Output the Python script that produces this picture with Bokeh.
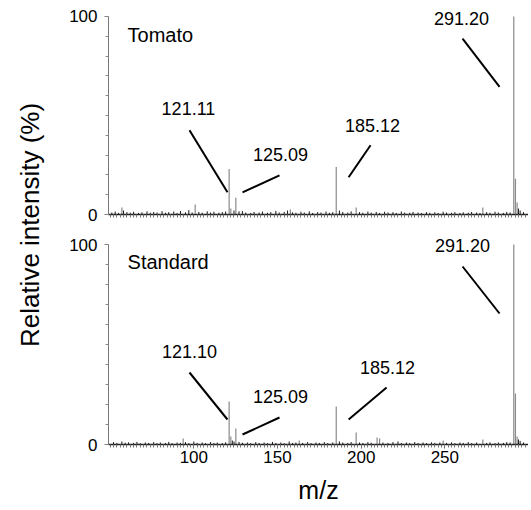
import math
from bokeh.plotting import figure
from bokeh.layouts import row, column
from bokeh.models import Range1d, FixedTicker, ColumnDataSource, LabelSet, Label
from bokeh.core.properties import value
from bokeh.embed import file_html
from bokeh.resources import INLINE

FONT = "Liberation Sans"

# ---------------- data ----------------
x_ticks = [100, 150, 200, 250]
y_ticks = [0, 100]

tomato_mz = [57.0, 100.8, 121.1, 122.1, 125.1, 157.7, 185.1, 197.0, 272.7, 291.2, 292.2, 293.2]
tomato_int = [3.5, 5.0, 23.0, 3.0, 8.5, 2.5, 24.0, 3.5, 3.5, 100.0, 18.0, 6.0]

standard_mz = [93.6, 121.1, 122.1, 125.1, 163.0, 185.1, 197.0, 209.5, 211.0, 249.0, 272.7, 291.2, 292.2, 293.2]
standard_int = [3.0, 21.5, 4.0, 8.0, 2.0, 19.0, 6.0, 3.5, 3.0, 2.0, 2.5, 100.0, 25.5, 4.0]

tomato_noise_mz = [51, 53, 55, 58, 60, 62, 64, 67, 69, 72, 74, 76, 78, 81, 83, 85, 88, 90, 92, 95,
                   97, 99, 103, 105, 108, 110, 112, 115, 117, 119, 124, 127, 129, 131, 134, 136, 139, 141, 144, 146,
                   149, 151, 154, 156, 159, 161, 164, 166, 169, 171, 174, 176, 179, 181, 183, 187, 189, 192, 194, 199,
                   201, 204, 206, 209, 211, 214, 216, 219, 221, 224, 226, 229, 231, 234, 236, 239, 241, 244, 246, 249,
                   251, 254, 256, 259, 261, 264, 266, 269, 271, 275, 277, 280, 282, 285, 287, 289, 294, 295, 297]
tomato_noise_int = [1.0, 1.5, 0.8, 2.0, 1.2, 0.9, 1.4, 0.8, 1.1, 1.6, 0.9, 1.3, 1.0, 1.7, 0.9, 1.2, 1.5, 0.8, 1.8, 1.1,
                    2.2, 1.0, 1.3, 0.9, 1.6, 1.0, 1.4, 0.9, 1.2, 1.5, 2.0, 1.6, 1.8, 1.0, 0.8, 1.3, 1.0, 1.5, 0.9, 1.2,
                    1.8, 1.0, 1.3, 2.0, 1.1, 0.9, 1.4, 1.0, 1.6, 0.8, 1.2, 1.0, 1.5, 0.9, 1.2, 2.0, 1.3, 1.0, 1.6, 1.2,
                    0.9, 1.5, 1.0, 1.3, 0.8, 1.4, 1.0, 1.2, 0.8, 1.5, 1.0, 0.9, 1.3, 1.0, 0.8, 1.2, 0.9, 1.1, 0.8, 1.4,
                    1.0, 0.9, 1.2, 0.8, 1.1, 0.9, 1.3, 1.0, 0.8, 1.2, 0.9, 1.4, 1.0, 0.8, 1.3, 1.0, 3.0, 2.0, 1.2]

standard_noise_mz = [52, 54, 57, 59, 61, 64, 66, 68, 71, 73, 76, 78, 80, 83, 85, 87, 90, 92, 95, 97,
                     100, 102, 105, 107, 110, 112, 114, 117, 119, 123, 124, 127, 129, 132, 134, 137, 139, 142, 144, 147,
                     149, 152, 154, 157, 159, 161, 165, 168, 170, 173, 175, 178, 180, 183, 187, 189, 192, 194, 199, 201,
                     204, 206, 213, 216, 219, 222, 224, 227, 229, 232, 234, 237, 239, 242, 244, 247, 251, 254, 256, 259,
                     261, 264, 266, 269, 275, 277, 280, 282, 285, 287, 289, 294, 295, 297]
standard_noise_int = [1.2, 0.8, 1.5, 0.9, 1.1, 0.8, 1.3, 0.7, 1.0, 0.8, 1.2, 0.7, 1.0, 0.8, 1.3, 0.7, 1.0, 0.8, 1.2, 0.7,
                      1.5, 0.8, 1.0, 0.7, 1.2, 0.8, 1.0, 0.7, 1.1, 2.0, 1.5, 1.3, 0.9, 1.0, 0.7, 1.2, 0.8, 1.0, 0.7, 1.3,
                      0.8, 1.0, 0.7, 1.5, 0.8, 1.0, 0.8, 1.2, 0.7, 1.0, 0.8, 1.2, 0.7, 1.0, 1.5, 1.0, 0.8, 1.2, 1.0, 0.8,
                      1.2, 0.9, 1.0, 0.8, 1.2, 1.5, 0.8, 1.0, 0.7, 1.2, 0.8, 1.0, 0.7, 1.1, 0.8, 1.0, 0.8, 1.1, 0.7, 1.0,
                      0.8, 1.2, 0.7, 1.0, 0.8, 1.1, 0.7, 1.0, 0.8, 1.2, 1.0, 2.5, 1.8, 1.0]

tomato_labels = ["121.11", "125.09", "185.12", "291.20"]
standard_labels = ["121.10", "125.09", "185.12", "291.20"]

# ---------------- annotation layout (positions in data units) ----------------
tomato_label_x = [96.8, 151.8, 206.8, 260.0]
tomato_label_y = [53.3, 30.5, 45.2, 99.0]
tomato_lead_x0 = [97.4, 151.2, 205.6, 260.6]
tomato_lead_y0 = [42.6, 19.8, 35.0, 88.8]
tomato_lead_x1 = [120.1, 129.1, 192.5, 282.7]
tomato_lead_y1 = [11.2, 11.2, 18.8, 64.5]

standard_label_x = [97.4, 151.8, 215.8, 260.6]
standard_label_y = [46.5, 24.0, 38.5, 99.5]
standard_lead_x0 = [97.4, 151.2, 215.2, 260.6]
standard_lead_y0 = [36.0, 13.5, 28.5, 89.0]
standard_lead_x1 = [120.1, 129.1, 192.5, 282.7]
standard_lead_y1 = [12.5, 5.0, 12.5, 65.5]


def panel(name, name_y, mz, inten, nmz, nint, labels, lx, ly, x0, y0, x1, y1,
          height, top, bottom, ytop, bottom_panel):
    p = figure(width=470, height=height, x_range=Range1d(49, 300), y_range=Range1d(0, ytop),
               output_backend="svg", toolbar_location=None,
               min_border_left=50, min_border_right=0, min_border_top=top, min_border_bottom=bottom)
    p.grid.visible = False
    p.outline_line_color = None

    # spectrum
    nsrc = ColumnDataSource(dict(x=nmz, y0=[0] * len(nmz), y=nint))
    p.segment(x0="x", y0="y0", x1="x", y1="y", source=nsrc, line_color="#1a1a1a", line_width=1)
    psrc = ColumnDataSource(dict(x=mz, y0=[0] * len(mz), y=inten))
    p.segment(x0="x", y0="y0", x1="x", y1="y", source=psrc, line_color="#8a8a8a", line_width=1.2)

    # leader lines
    lsrc = ColumnDataSource(dict(x0=x0, y0=y0, x1=x1, y1=y1))
    p.segment(x0="x0", y0="y0", x1="x1", y1="y1", source=lsrc, line_color="black", line_width=2)

    tsrc = ColumnDataSource(dict(x=lx, y=ly, t=labels))
    p.add_layout(LabelSet(x="x", y="y", text="t", source=tsrc, text_align="center",
                          text_baseline="middle", text_font=value(FONT),
                          text_font_size=value("18px"), text_color="black"))
    p.add_layout(Label(x=60.4, y=name_y, text=name, text_align="left", text_baseline="middle",
                       text_font=FONT, text_font_size="20px", text_color="black"))

    # x axis
    xa = p.xaxis[0]
    xa.axis_line_color = "#222222"
    xa.axis_line_width = 1.4
    xa.major_tick_line_color = "#666666"
    xa.minor_tick_line_color = "#777777"
    xa.major_tick_in = 0
    xa.minor_tick_in = 0
    xa.major_tick_out = 4
    xa.minor_tick_out = 3
    xa.major_label_standoff = 2
    if bottom_panel:
        xa.ticker = FixedTicker(ticks=x_ticks, minor_ticks=list(range(50, 301, 2)))
        xa.major_label_text_font = FONT
        xa.major_label_text_font_size = "17px"
        xa.major_label_text_color = "black"
        xa.axis_label = "m/z"
        xa.axis_label_text_font = FONT
        xa.axis_label_text_font_size = "25px"
        xa.axis_label_text_font_style = "normal"
        xa.axis_label_text_color = "black"
        xa.axis_label_standoff = 10
    else:
        xa.ticker = FixedTicker(ticks=[], minor_ticks=list(range(50, 301, 2)))

    # y axis
    ya = p.yaxis[0]
    ya.ticker = FixedTicker(ticks=y_ticks, minor_ticks=list(range(0, 101, 10)))
    ya.bounds = (0, 100)
    ya.axis_line_color = "#777777"
    ya.major_tick_line_color = "#777777"
    ya.minor_tick_line_color = "#888888"
    ya.major_tick_in = 0
    ya.minor_tick_in = 0
    ya.major_tick_out = 4
    ya.minor_tick_out = 3
    ya.major_label_standoff = 7
    ya.major_label_text_font = FONT
    ya.major_label_text_font_size = "17px"
    ya.major_label_text_color = "black"
    return p


top = panel("Tomato", 90.5, tomato_mz, tomato_int, tomato_noise_mz, tomato_noise_int, tomato_labels,
            tomato_label_x, tomato_label_y, tomato_lead_x0, tomato_lead_y0, tomato_lead_x1, tomato_lead_y1,
            height=232, top=8, bottom=18, ytop=104.04, bottom_panel=False)
bot = panel("Standard", 91.5, standard_mz, standard_int, standard_noise_mz, standard_noise_int, standard_labels,
            standard_label_x, standard_label_y, standard_lead_x0, standard_lead_y0, standard_lead_x1,
            standard_lead_y1, height=275, top=2, bottom=63, ytop=105, bottom_panel=True)

ttl = figure(width=58, height=507, x_range=Range1d(0, 58), y_range=Range1d(0, 507),
             output_backend="svg", toolbar_location=None, x_axis_location=None, y_axis_location=None,
             min_border=0)
ttl.grid.visible = False
ttl.outline_line_color = None
ttl.add_layout(Label(x=29, y=507 - 224.5, text="Relative intensity (%)", angle=math.pi / 2,
                     text_align="center", text_baseline="middle", text_font=FONT,
                     text_font_size="26px", text_color="black"))

layout = row(ttl, column(top, bot))
open("out.html", "w").write(file_html(layout, INLINE))
